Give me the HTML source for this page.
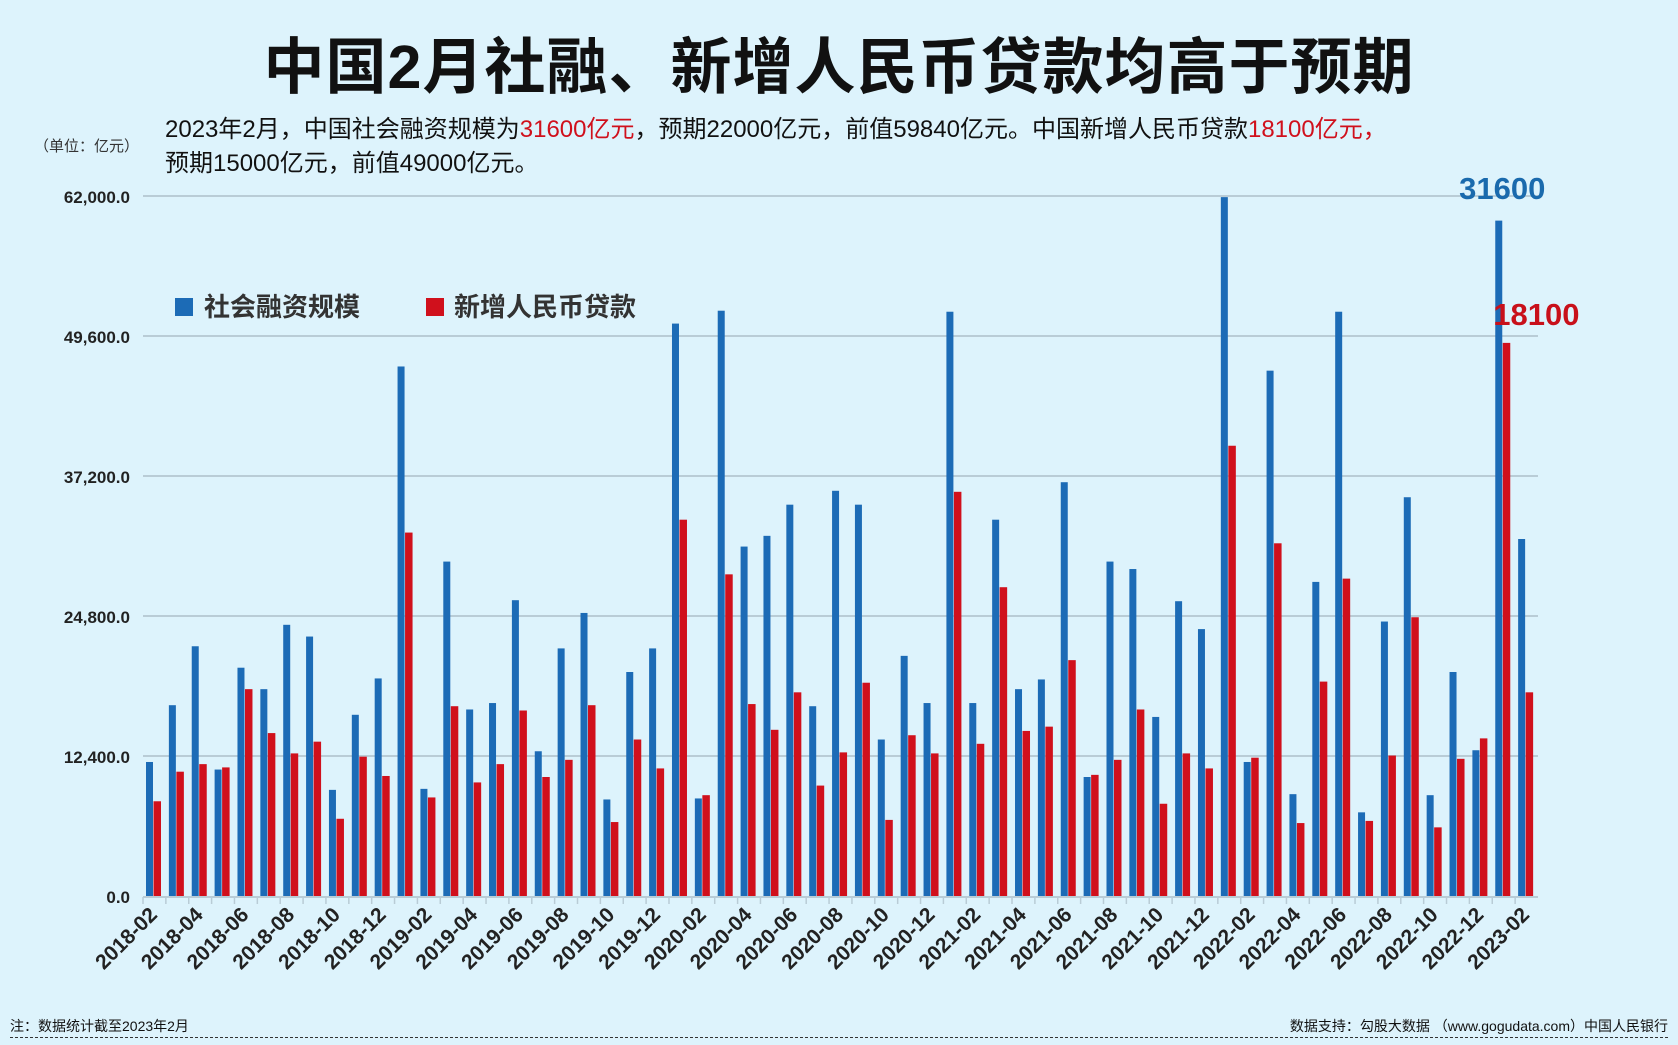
<!DOCTYPE html>
<html><head><meta charset="utf-8">
<style>
html,body{margin:0;padding:0;}
body{width:1678px;height:1045px;background:#ddf3fc;overflow:hidden;position:relative;font-family:"Liberation Sans","Noto Sans CJK SC",sans-serif;}
.t{position:absolute;white-space:nowrap;}
</style></head><body>
<div class="t" style="left:0;width:1678px;text-align:center;top:17px;font-size:61px;font-weight:bold;color:#111;letter-spacing:1px;">中国2月社融、新增人民币贷款均高于预期</div>
<div class="t" style="left:165px;top:113px;font-size:24px;line-height:34px;color:#111;">2023年2月，中国社会融资规模为<span style="color:#d0101c">31600亿元</span>，预期22000亿元，前值59840亿元。中国新增人民币贷款<span style="color:#d0101c">18100亿元，</span><br>预期15000亿元，前值49000亿元。</div>
<div class="t" style="left:34px;top:135px;font-size:15px;color:#333;">（单位：亿元）</div>
<svg id="chart" width="1678" height="1045" style="position:absolute;left:0;top:0;font-family:'Liberation Sans','Noto Sans CJK SC',sans-serif;"></svg>
<div class="t" style="left:10px;top:1016px;font-size:14px;color:#111;">注：数据统计截至2023年2月</div>
<div class="t" style="right:10px;top:1016px;font-size:14px;color:#111;">数据支持：勾股大数据 （www.gogudata.com）中国人民银行</div>
<div style="position:absolute;left:10px;right:10px;top:1037px;border-top:1.5px dashed #333;"></div>
<script>
const months=[];
for(let y=2018;y<=2023;y++){for(let m=1;m<=12;m++){if((y===2018&&m<2)||(y===2023&&m>2))continue;months.push(y+'-'+String(m).padStart(2,'0'));}}
const tsfValues=[11870,16900,22120,11200,20220,18320,24020,22980,9400,16050,19270,46900,9490,29620,16520,17090,26200,12820,21930,25070,8550,19840,21930,50700,8640,51840,30950,31900,34660,16810,35890,34660,13860,21270,17090,51750,17090,33330,18320,19180,36650,10540,29620,28960,15860,26110,23640,61900,11870,46530,9020,27820,51750,7410,24310,35320,8930,19840,12910,59820,31620];
const loanValues=[8390,11010,11680,11390,18320,14430,12630,13670,6840,12340,10630,32190,8730,16810,10060,11680,16430,10540,12060,16900,6550,13860,11300,33330,8930,28490,17000,14720,18040,9780,12720,18890,6740,14240,12630,35800,13480,27350,14620,15000,20890,10730,12060,16520,8170,12630,11300,39880,12250,31240,6460,18990,28110,6650,12440,24690,6080,12150,13960,48990,18040];
const yTicks=[0,12400,24800,37200,49600,62000];
const yTickLabels=['0.0','12,400.0','24,800.0','37,200.0','49,600.0','62,000.0'];
const svg=document.getElementById('chart');const NS='http://www.w3.org/2000/svg';
const L=143,R=1538,Y0=896,YT=196,YMAX=62000;
const slot=(R-L)/months.length;
const y=v=>Y0-(v/YMAX)*(Y0-YT);
const x=i=>L+i*slot;
function mk(t,a){const e=document.createElementNS(NS,t);for(const k in a)e.setAttribute(k,a[k]);svg.appendChild(e);return e;}
yTicks.forEach((v,i)=>{
 if(i>0){const g=mk('line',{x1:L,x2:R,y1:y(v),y2:y(v),stroke:'#b9ccd6','stroke-width':2});
 
 }
 const t=mk('text',{x:L-13,y:y(v)+7,'text-anchor':'end','font-size':17,'font-weight':'bold',fill:'#222'});t.textContent=yTickLabels[i];
 
 
});
const ax=mk('line',{x1:L,x2:R,y1:Y0+1,y2:Y0+1,stroke:'#b9ccd6','stroke-width':2});


months.forEach((m,i)=>{
 const tk=mk('line',{x1:x(i),x2:x(i),y1:Y0+1,y2:Y0+8,stroke:'#b9ccd6','stroke-width':1.5});
 
 
 const b=mk('rect',{x:x(i)+3,y:y(tsfValues[i]),width:7,height:Y0-y(tsfValues[i]),fill:'#1c6bb6'});
 
 
 const r=mk('rect',{x:x(i)+10.5,y:y(loanValues[i]),width:7.5,height:Y0-y(loanValues[i]),fill:'#d0101c'});
 
 
 if(i%2===0){const cx=x(i)+slot/2+4,cy=Y0+20;
  const t=mk('text',{x:cx,y:cy,'text-anchor':'end','font-size':21,'font-weight':'bold',fill:'#222',transform:`rotate(-45 ${cx} ${cy})`});t.textContent=m;
  
  }
});
const n=months.length-1;
const a1=mk('text',{x:x(n-1)+10,y:199,'text-anchor':'middle','font-size':31,'font-weight':'bold',fill:'#1a6aad'});a1.textContent=String(31600);


const a2=mk('text',{x:x(n-1)+1,y:325,'font-size':31,'font-weight':'bold',fill:'#c8101a'});a2.textContent=String(18100);


const lg1=mk('rect',{x:175,y:298,width:18,height:18,fill:'#1c6bb6'});


const lt1=mk('text',{x:204,y:316,'font-size':26,'font-weight':'bold',fill:'#333'});lt1.textContent='社会融资规模';


const lg2=mk('rect',{x:426,y:298,width:18,height:18,fill:'#d0101c'});


const lt2=mk('text',{x:454,y:316,'font-size':26,'font-weight':'bold',fill:'#333'});lt2.textContent='新增人民币贷款';


</script>
</body></html>
